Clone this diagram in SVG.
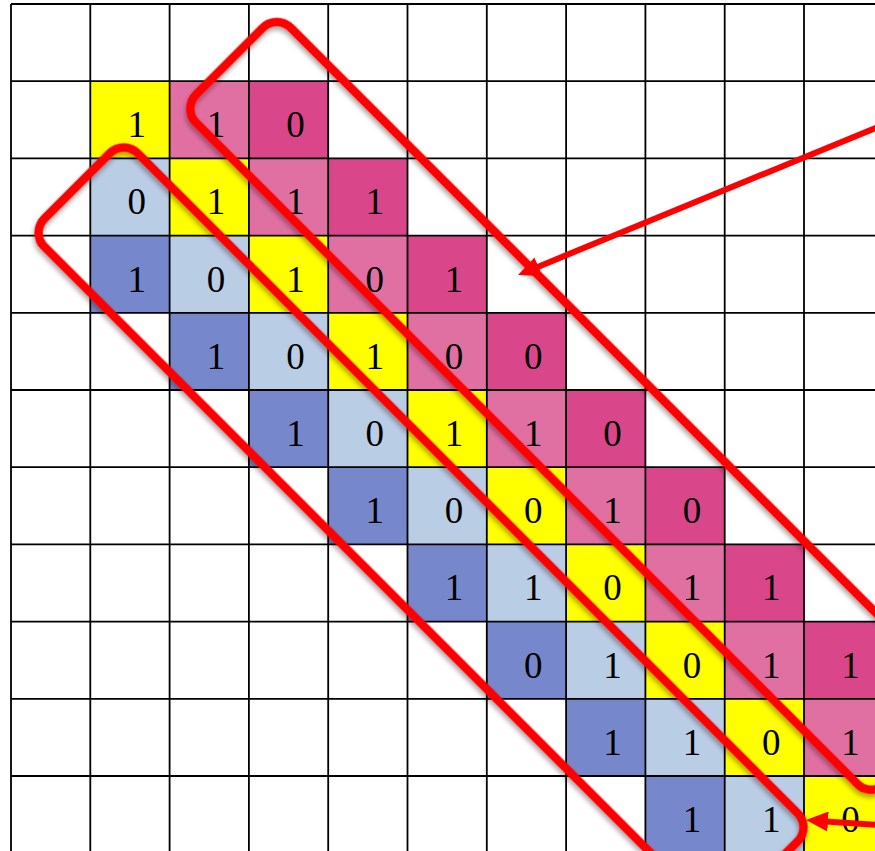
<svg xmlns="http://www.w3.org/2000/svg" width="875" height="851" viewBox="0 0 875 851">
<style>
.y{fill:#FFFF00}.lp{fill:#E070A2}.dp{fill:#D9478A}.lb{fill:#B9CDE5}.b{fill:#7787CC}
text{font-family:"Liberation Serif","Times New Roman",serif;font-size:37px;fill:#000;text-anchor:middle}
.grid{fill:none;stroke:#000;stroke-width:1.8}
.box{fill:none;stroke:#FF0000;stroke-width:8.5;filter:url(#sh)}
.arr{fill:none;stroke:#FF0000;stroke-width:6;marker-end:url(#ah)}
</style>
<defs>
<filter id="sh" x="-5%" y="-20%" width="110%" height="140%">
<feDropShadow dx="2" dy="3" stdDeviation="2.5" flood-color="#000" flood-opacity="0.35"/>
</filter>
<marker id="ah" viewBox="0 0 22 20" refX="2" refY="10" markerWidth="22" markerHeight="20" markerUnits="userSpaceOnUse" orient="auto">
<path d="M0,0 L22,10 L0,20 z" fill="#FF0000"/>
</marker>
</defs>
<rect width="875" height="851" fill="#fff"/>
<g id="cells">
<g id="r1c1"><rect class="y" x="90.3" y="81.2" width="79.3" height="77.2"/><text x="136.8" y="137.2">1</text></g>
<g id="r1c2"><rect class="lp" x="169.6" y="81.2" width="79.3" height="77.2"/><text x="216.1" y="137.2">1</text></g>
<g id="r1c3"><rect class="dp" x="248.9" y="81.2" width="79.3" height="77.2"/><text x="295.4" y="137.2">0</text></g>
<g id="r2c1"><rect class="lb" x="90.3" y="158.4" width="79.3" height="77.2"/><text x="136.8" y="214.4">0</text></g>
<g id="r2c2"><rect class="y" x="169.6" y="158.4" width="79.3" height="77.2"/><text x="216.1" y="214.4">1</text></g>
<g id="r2c3"><rect class="lp" x="248.9" y="158.4" width="79.3" height="77.2"/><text x="295.4" y="214.4">1</text></g>
<g id="r2c4"><rect class="dp" x="328.2" y="158.4" width="79.3" height="77.2"/><text x="374.7" y="214.4">1</text></g>
<g id="r3c1"><rect class="b" x="90.3" y="235.6" width="79.3" height="77.2"/><text x="136.8" y="291.6">1</text></g>
<g id="r3c2"><rect class="lb" x="169.6" y="235.6" width="79.3" height="77.2"/><text x="216.1" y="291.6">0</text></g>
<g id="r3c3"><rect class="y" x="248.9" y="235.6" width="79.3" height="77.2"/><text x="295.4" y="291.6">1</text></g>
<g id="r3c4"><rect class="lp" x="328.2" y="235.6" width="79.3" height="77.2"/><text x="374.7" y="291.6">0</text></g>
<g id="r3c5"><rect class="dp" x="407.5" y="235.6" width="79.3" height="77.2"/><text x="454" y="291.6">1</text></g>
<g id="r4c2"><rect class="b" x="169.6" y="312.8" width="79.3" height="77.2"/><text x="216.1" y="368.8">1</text></g>
<g id="r4c3"><rect class="lb" x="248.9" y="312.8" width="79.3" height="77.2"/><text x="295.4" y="368.8">0</text></g>
<g id="r4c4"><rect class="y" x="328.2" y="312.8" width="79.3" height="77.2"/><text x="374.7" y="368.8">1</text></g>
<g id="r4c5"><rect class="lp" x="407.5" y="312.8" width="79.3" height="77.2"/><text x="454" y="368.8">0</text></g>
<g id="r4c6"><rect class="dp" x="486.8" y="312.8" width="79.3" height="77.2"/><text x="533.3" y="368.8">0</text></g>
<g id="r5c3"><rect class="b" x="248.9" y="390" width="79.3" height="77.2"/><text x="295.4" y="446">1</text></g>
<g id="r5c4"><rect class="lb" x="328.2" y="390" width="79.3" height="77.2"/><text x="374.7" y="446">0</text></g>
<g id="r5c5"><rect class="y" x="407.5" y="390" width="79.3" height="77.2"/><text x="454" y="446">1</text></g>
<g id="r5c6"><rect class="lp" x="486.8" y="390" width="79.3" height="77.2"/><text x="533.3" y="446">1</text></g>
<g id="r5c7"><rect class="dp" x="566.1" y="390" width="79.3" height="77.2"/><text x="612.6" y="446">0</text></g>
<g id="r6c4"><rect class="b" x="328.2" y="467.2" width="79.3" height="77.2"/><text x="374.7" y="523.2">1</text></g>
<g id="r6c5"><rect class="lb" x="407.5" y="467.2" width="79.3" height="77.2"/><text x="454" y="523.2">0</text></g>
<g id="r6c6"><rect class="y" x="486.8" y="467.2" width="79.3" height="77.2"/><text x="533.3" y="523.2">0</text></g>
<g id="r6c7"><rect class="lp" x="566.1" y="467.2" width="79.3" height="77.2"/><text x="612.6" y="523.2">1</text></g>
<g id="r6c8"><rect class="dp" x="645.4" y="467.2" width="79.3" height="77.2"/><text x="691.9" y="523.2">0</text></g>
<g id="r7c5"><rect class="b" x="407.5" y="544.4" width="79.3" height="77.2"/><text x="454" y="600.4">1</text></g>
<g id="r7c6"><rect class="lb" x="486.8" y="544.4" width="79.3" height="77.2"/><text x="533.3" y="600.4">1</text></g>
<g id="r7c7"><rect class="y" x="566.1" y="544.4" width="79.3" height="77.2"/><text x="612.6" y="600.4">0</text></g>
<g id="r7c8"><rect class="lp" x="645.4" y="544.4" width="79.3" height="77.2"/><text x="691.9" y="600.4">1</text></g>
<g id="r7c9"><rect class="dp" x="724.7" y="544.4" width="79.3" height="77.2"/><text x="771.2" y="600.4">1</text></g>
<g id="r8c6"><rect class="b" x="486.8" y="621.6" width="79.3" height="77.2"/><text x="533.3" y="677.6">0</text></g>
<g id="r8c7"><rect class="lb" x="566.1" y="621.6" width="79.3" height="77.2"/><text x="612.6" y="677.6">1</text></g>
<g id="r8c8"><rect class="y" x="645.4" y="621.6" width="79.3" height="77.2"/><text x="691.9" y="677.6">0</text></g>
<g id="r8c9"><rect class="lp" x="724.7" y="621.6" width="79.3" height="77.2"/><text x="771.2" y="677.6">1</text></g>
<g id="r8c10"><rect class="dp" x="804" y="621.6" width="79.3" height="77.2"/><text x="850.5" y="677.6">1</text></g>
<g id="r9c7"><rect class="b" x="566.1" y="698.8" width="79.3" height="77.2"/><text x="612.6" y="754.8">1</text></g>
<g id="r9c8"><rect class="lb" x="645.4" y="698.8" width="79.3" height="77.2"/><text x="691.9" y="754.8">1</text></g>
<g id="r9c9"><rect class="y" x="724.7" y="698.8" width="79.3" height="77.2"/><text x="771.2" y="754.8">0</text></g>
<g id="r9c10"><rect class="lp" x="804" y="698.8" width="79.3" height="77.2"/><text x="850.5" y="754.8">1</text></g>
<g id="r10c8"><rect class="b" x="645.4" y="776" width="79.3" height="77.2"/><text x="691.9" y="832">1</text></g>
<g id="r10c9"><rect class="lb" x="724.7" y="776" width="79.3" height="77.2"/><text x="771.2" y="832">1</text></g>
<g id="r10c10"><rect class="y" x="804" y="776" width="79.3" height="77.2"/><text x="850.5" y="832">0</text></g>
</g>
<path id="grid" class="grid" d="M11,4V851M90.3,4V851M169.6,4V851M248.9,4V851M328.2,4V851M407.5,4V851M486.8,4V851M566.1,4V851M645.4,4V851M724.7,4V851M804,4V851M11,4H875M11,81.2H875M11,158.4H875M11,235.6H875M11,312.8H875M11,390H875M11,467.2H875M11,544.4H875M11,621.6H875M11,698.8H875M11,776H875"/>
<g id="boxA"><rect class="box" x="0" y="0" width="975" height="134" rx="20" transform="translate(276.8,13.8) rotate(45)"/></g>
<g id="boxB"><rect class="box" x="0" y="0" width="973" height="132" rx="20" transform="translate(123.7,139.3) rotate(45)"/></g>
<g id="connectors">
<path class="arr" d="M878,127 L536.5,267.4"/>
<path class="arr" d="M878,825 L826,821.4"/>
</g>
</svg>
